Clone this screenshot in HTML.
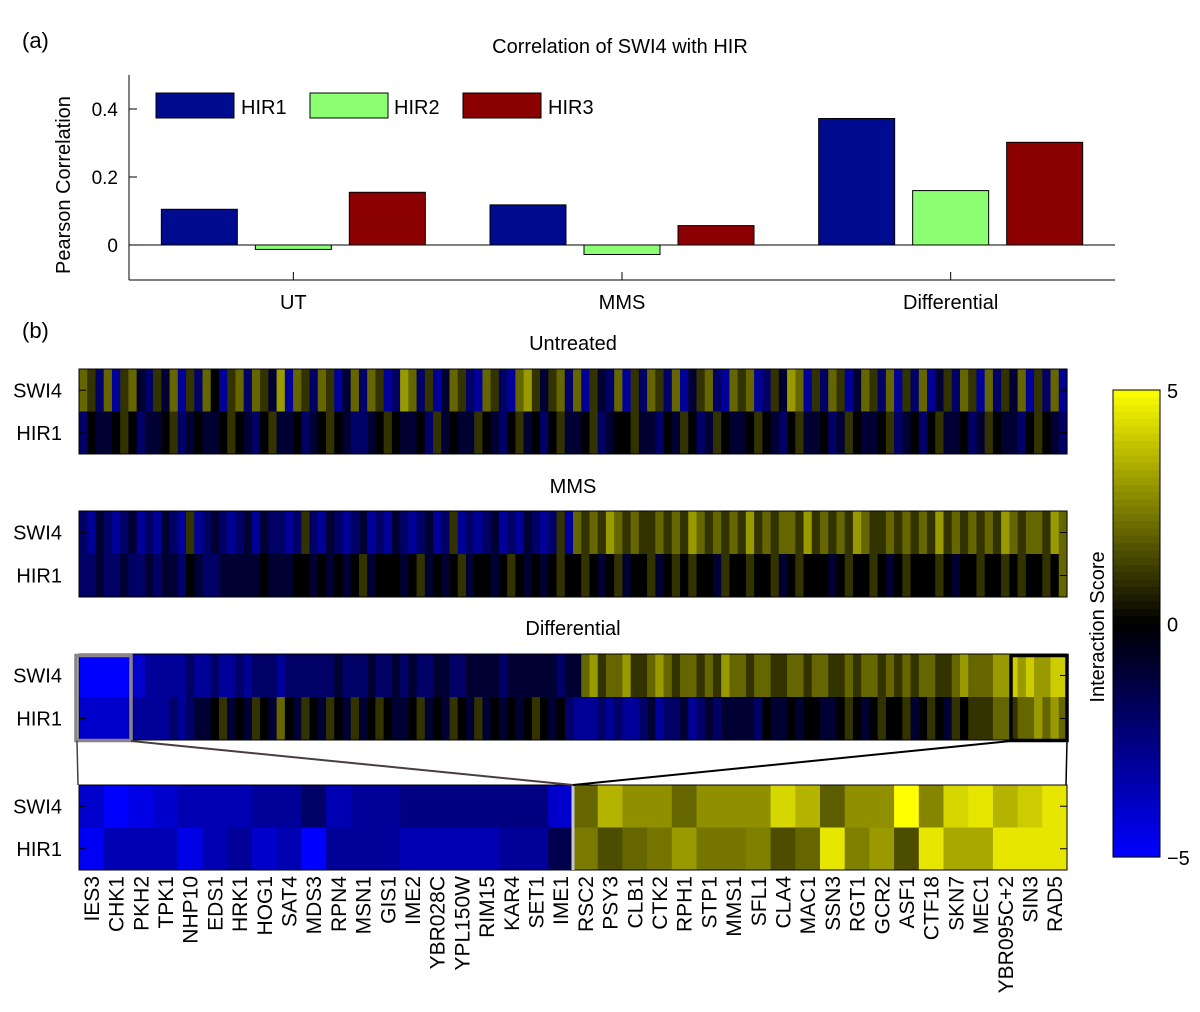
<!DOCTYPE html>
<html><head><meta charset="utf-8">
<style>
body{margin:0;background:#fff;}
svg{display:block;font-family:"Liberation Sans","DejaVu Sans",sans-serif;}
</style></head>
<body>
<svg id="chart" width="1200" height="1012" viewBox="0 0 1200 1012" xmlns="http://www.w3.org/2000/svg">
<text x="22" y="48" font-size="22">(a)</text>
<text x="22" y="338" font-size="22">(b)</text>
<text x="620" y="53" font-size="20" text-anchor="middle">Correlation of SWI4 with HIR</text>
<text transform="translate(70,185) rotate(-90)" font-size="20" text-anchor="middle">Pearson Correlation</text>
<g id="bars"></g>
<g id="heat"></g>
</svg>
<script>
// ---------- bar chart data ----------
const categories = ["UT","MMS","Differential"];
const seriesNames = ["HIR1","HIR2","HIR3"];
const hir1 = [0.105, 0.118, 0.372];
const hir2 = [-0.013, -0.028, 0.160];
const hir3 = [0.155, 0.057, 0.302];
const yTicks = [0, 0.2, 0.4];
const yTickLabels = ["0","0.2","0.4"];

// ---------- heatmap data (chars a..k => -5..5) ----------
const untreatedSWI4 = "hgdhcghedgehcgdhfcghdhgeichgdhgcehdhgcdihdgcehgdchgdchigeghdhcgedhcgdhgdhceghdchghcdgeihcgdhgcehgdhcgdhcegdhgchdgehcgdhc";
const untreatedHIR1 = "dfeefgfdeefgdefeefgfedfgeefdefgfeddefgfeefdgefeegfedfgefdfgeefgdeffgeedfegfdegfeefgfedfgeefdegfeefgdefdfgeefdegfeedfgfed";
const mmsSWI4 = "dcedcdecdcedcgcdedcdeceddcdgdcedcdecdcedcdecdgcdcdecdcedcdgchghgihghgghghgihghghgighghhgighghgihgghghghgighghghgihghhgih";
const mmsHIR1 = "ddeddeddedeedfeddeeeeefeeeffefefefgefffefgefefgeffefgfefefgffgfefgeffgefgfgffegffgffgefgfffefgffgfefgfffgfeffgffgfgffgfh";
const diffSWI4 = "aaaaaabbcccccdccdccdcdddcddddddedddeddededdeeddeeeedeeeeeedeehighhigghihghhghgihhghhgghhghhgghghhghghghhgghihhhiijijiijj";
const diffHIR1 = "bbbbbbcccccdcdeefgefegfehfegfegfegefgfeefgefegfegefefefgfefdcccdcdccdecddecdedeeeedfeefeffeefgfefgffgefgfegfggghhghhihih";
const genes = ["IES3","CHK1","PKH2","TPK1","NHP10","EDS1","HRK1","HOG1","SAT4","MDS3","RPN4","MSN1","GIS1","IME2","YBR028C","YPL150W","RIM15","KAR4","SET1","IME1","RSC2","PSY3","CLB1","CTK2","RPH1","STP1","MMS1","SFL1","CLA4","MAC1","SSN3","RGT1","GCR2","ASF1","CTF18","SKN7","MEC1","YBR095C+2","SIN3","RAD5"];
const zoomSWI4 = [-4,-5,-4.5,-4,-3.5,-3.5,-3.5,-3,-3,-2,-3.5,-3,-3,-2.5,-2.5,-2.5,-2.5,-2.5,-2.5,-4,2,3.5,2.8,2.8,2,2.8,2.8,2.8,4.2,3.5,1.8,2.8,2.8,5,2.6,4.2,4.5,3.5,4,4.5];
const zoomHIR1 = [-4.8,-3.5,-3.5,-3.5,-4.5,-3.5,-3,-4,-3.5,-5,-3,-3,-3,-3.5,-3.5,-3.5,-3.5,-3,-3,-1.5,2.4,1.5,2,2.3,3,2.3,2.3,2.5,1.5,2,4.5,2.5,3,1.5,4.5,3.3,3.3,4.5,4.5,4.5];
const cbTicks = [5,0,-5];

const NS="http://www.w3.org/2000/svg";
function mk(tag, attrs, parent){const e=document.createElementNS(NS,tag);for(const k in attrs)e.setAttribute(k,attrs[k]);parent.appendChild(e);return e;}

// ---------- bar chart ----------
const B=document.getElementById('bars');
const px0=129, px1=1115, yMin=-0.103, yMax=0.5, pyTop=75, pyBot=280;
const yS=v=>pyBot-(v-yMin)/(yMax-yMin)*(pyBot-pyTop);
const groupW=(px1-px0)/categories.length;
const xC=i=>px0+groupW*(i+0.5);
const colors=["#000b8f","#8cff73","#8b0000"];
const series=[hir1,hir2,hir3];
let ax=mk('line',{x1:px0,y1:pyTop,x2:px0,y2:pyBot,stroke:'#000','stroke-width':1},B);


let xa=mk('line',{x1:px0,y1:pyBot,x2:px1,y2:pyBot,stroke:'#000','stroke-width':1},B);


let zl=mk('line',{x1:px0,y1:yS(0),x2:px1,y2:yS(0),stroke:'#000','stroke-width':1},B);


yTicks.forEach((t,i)=>{
  const y=yS(t);
  mk('line',{x1:px0,y1:y,x2:px0+8,y2:y,stroke:'#000'},B);
  const tx=mk('text',{x:118,y:y+7,'font-size':19,'text-anchor':'end'},B);
  tx.textContent=yTickLabels[i];
  
  
});
categories.forEach((c,i)=>{
  const x=xC(i);
  mk('line',{x1:x,y1:pyBot,x2:x,y2:pyBot-8,stroke:'#000'},B);
  const tx=mk('text',{x:x,y:309,'font-size':20,'text-anchor':'middle'},B);
  tx.textContent=c;
  
  
  series.forEach((s,j)=>{
    const v=s[i];const bx=x+(j-1)*94-38;
    const y0=yS(Math.max(0,v)), y1=yS(Math.min(0,v));
    const r=mk('rect',{x:bx,y:y0,width:76,height:Math.max(1,y1-y0),fill:colors[j],stroke:'#000','stroke-width':1},B);
    
    
  });
});
[[156,241],[310,394],[463,548]].forEach((p,j)=>{
  const g=mk('g',{},B);
  
  
  mk('rect',{x:p[0],y:93,width:78,height:25,fill:colors[j],stroke:'#000'},g);
  const t=mk('text',{x:p[1],y:114,'font-size':20},g);t.textContent=seriesNames[j];
});

// ---------- heatmaps ----------
const H=document.getElementById('heat');
function col(v){v=Math.max(-5,Math.min(5,v));if(v>=0){const c=Math.round(v/5*255);return `rgb(${c},${c},0)`;}const c=Math.round(-v/5*255);return `rgb(0,0,${c})`;}
const hx0=79, hx1=1067;
function drawHeat(rows, y, h, name, isStr){
  const g=mk('g',{},H);
  
  
  rows.forEach((r,ri)=>{
    const vals=isStr?[...r].map(ch=>ch.charCodeAt(0)-102):r;
    const w=(hx1-hx0)/vals.length;
    vals.forEach((v,i)=>{
      mk('rect',{x:hx0+i*w,y:y+ri*h/2,width:w+0.6,height:h/2,fill:col(v)},g);
    });
  });
  mk('rect',{x:hx0,y:y,width:hx1-hx0,height:h,fill:'none',stroke:'#000','stroke-width':1},g);
  ["SWI4","HIR1"].forEach((l,ri)=>{
    const cy=y+h/4+ri*h/2;
    mk('line',{x1:hx0,y1:cy,x2:hx0+7,y2:cy,stroke:'#000'},g);
    mk('line',{x1:hx1,y1:cy,x2:hx1-7,y2:cy,stroke:'#000'},g);
    const t=mk('text',{x:62,y:cy+7,'font-size':20,'text-anchor':'end'},g);t.textContent=l;
  });
}
[["Untreated",350],["MMS",493],["Differential",635]].forEach(([t,y])=>{
  const e=mk('text',{x:573,y:y,'font-size':20,'text-anchor':'middle'},H);e.textContent=t;
  
  
});
drawHeat([untreatedSWI4,untreatedHIR1],369,85,'heatmap-untreated',true);
drawHeat([mmsSWI4,mmsHIR1],511,86,'heatmap-mms',true);
drawHeat([diffSWI4,diffHIR1],654,86,'heatmap-differential',true);
drawHeat([zoomSWI4,zoomHIR1],785,85,'heatmap-selected-genes',false);
const cw=(hx1-hx0)/genes.length;
const sx=hx0+cw*20;
mk('line',{x1:sx,y1:785,x2:sx,y2:870,stroke:'#c8c8c8','stroke-width':3},H);
let gb=mk('rect',{x:76,y:655.5,width:55,height:85,fill:'none',stroke:'#8c8386','stroke-width':3.5},H);


let bb=mk('rect',{x:1011,y:655.5,width:56,height:85,fill:'none',stroke:'#000','stroke-width':3.5},H);


mk('line',{x1:131,y1:741,x2:sx,y2:785,stroke:'#4a3d3f','stroke-width':2},H);
mk('line',{x1:1011,y1:741,x2:sx,y2:785,stroke:'#000','stroke-width':2},H);
mk('line',{x1:77,y1:741,x2:78,y2:785,stroke:'#4a3d3f','stroke-width':1.5},H);
mk('line',{x1:1067,y1:741,x2:1066,y2:785,stroke:'#000','stroke-width':1.5},H);
genes.forEach((gn,i)=>{
  const x=hx0+cw*(i+0.5);
  const t=mk('text',{transform:`translate(${x+7.5},876) rotate(-90)`,'font-size':21,'text-anchor':'end'},H);
  t.textContent=gn;
  
  
});
const cbx=1113, cbTop=390, cbBot=857;
const cbG=mk('g',{},H);


const steps=64;
for(let i=0;i<steps;i++){
  const v=5-10*(i+0.5)/steps;
  mk('rect',{x:cbx,y:cbTop+i*(cbBot-cbTop)/steps,width:47,height:(cbBot-cbTop)/steps+0.6,fill:col(v)},cbG);
}
mk('rect',{x:cbx,y:cbTop,width:47,height:cbBot-cbTop,fill:'none',stroke:'#000'},cbG);
const cbY=v=>cbTop+(5-v)/10*(cbBot-cbTop);
cbTicks.forEach(t=>{
  const e=mk('text',{x:1167,y:cbY(t)+8,'font-size':20},cbG);e.textContent=t<0?'\u2212'+(-t):String(t);
});
const cl=mk('text',{transform:'translate(1104,627) rotate(-90)','font-size':20,'text-anchor':'middle'},H);
cl.textContent='Interaction Score';


</script>
</body></html>
